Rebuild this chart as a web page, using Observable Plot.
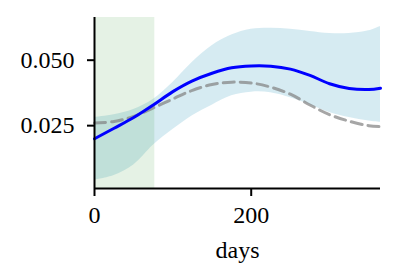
<!DOCTYPE html>
<html>
<head>
<meta charset="utf-8">
<script src="https://cdn.jsdelivr.net/npm/d3@7"></script>
<script src="https://cdn.jsdelivr.net/npm/@observablehq/plot@0.6"></script>
<style>
  html, body { margin: 0; padding: 0; background: #fff; }
</style>
</head>
<body>
<div id="chart"></div>
<script>
const days   = [0, 25, 50, 75, 100, 125, 150, 175, 200, 225, 250, 275, 300, 325, 350, 365];
const mean   = [0.0200, 0.0240, 0.0281, 0.0329, 0.0380, 0.0421, 0.0450, 0.0471, 0.0478, 0.0477, 0.0466, 0.0442, 0.0410, 0.0392, 0.0388, 0.0393];
const ref    = [0.0260, 0.0266, 0.0285, 0.0318, 0.0352, 0.0385, 0.0407, 0.0416, 0.0413, 0.0397, 0.0370, 0.0329, 0.0292, 0.0267, 0.0250, 0.0246];
const upper  = [0.0282, 0.0292, 0.0312, 0.0350, 0.0415, 0.0492, 0.0555, 0.0596, 0.0618, 0.0622, 0.0618, 0.0610, 0.0602, 0.0602, 0.0612, 0.0629];
const lower  = [0.0042, 0.0060, 0.0100, 0.0175, 0.0235, 0.0288, 0.0328, 0.0364, 0.0378, 0.0376, 0.0357, 0.0330, 0.0300, 0.0281, 0.0268, 0.0263];
const shadeStart = 0, shadeEnd = 77;
const xTicks = [0, 200];
const yTicks = [0.025, 0.050];
const xLabel = "days";

const xDomain = [0, 365];
const yDomain = [0.001, 0.0663];

const data = days.map((d, i) => ({day: d, mean: mean[i], ref: ref[i], upper: upper[i], lower: lower[i]}));

const font = "'Liberation Serif', 'DejaVu Serif', serif";
const chart = Plot.plot({
  width: 398,
  height: 280,
  marginLeft: 94,
  marginRight: 18,
  marginTop: 17,
  marginBottom: 92,
  style: {fontFamily: font, fontSize: "24px", background: "#fff", color: "#000"},
  x: {domain: xDomain},
  y: {domain: yDomain},
  marks: [
    Plot.areaY(data, {x: "day", y1: "lower", y2: "upper", fill: "#add8e6", fillOpacity: 0.5, curve: "catmull-rom"}),
    Plot.rect([{x1: shadeStart, x2: shadeEnd}], {x1: "x1", x2: "x2", y1: yDomain[0], y2: yDomain[1], fill: "green", fillOpacity: 0.1}),
    Plot.line(data, {x: "day", y: "ref", stroke: "#808080", strokeOpacity: 0.7, strokeWidth: 3, strokeDasharray: "11,6", curve: "catmull-rom"}),
    Plot.line(data, {x: "day", y: "mean", stroke: "#0000ff", strokeWidth: 3, curve: "catmull-rom"}),
    Plot.axisY({ticks: yTicks, tickFormat: d3.format(".3f"), tickSize: 7, tickPadding: 13, strokeWidth: 2, fontSize: 24, label: null}),
    Plot.axisX({ticks: xTicks, tickFormat: d3.format("d"), tickSize: 8, tickPadding: 9, strokeWidth: 2, fontSize: 24, label: null}),
    Plot.text([xLabel], {frameAnchor: "bottom", dy: 69, lineAnchor: "bottom", fontSize: 24, fill: "#000"}),
    Plot.ruleX([xDomain[0]], {y1: yDomain[0], y2: yDomain[1], stroke: "#000", strokeWidth: 2}),
    Plot.ruleY([yDomain[0]], {x1: xDomain[0], x2: xDomain[1], stroke: "#000", strokeWidth: 2})
  ]
});
document.getElementById("chart").appendChild(chart);
</script>
</body>
</html>
